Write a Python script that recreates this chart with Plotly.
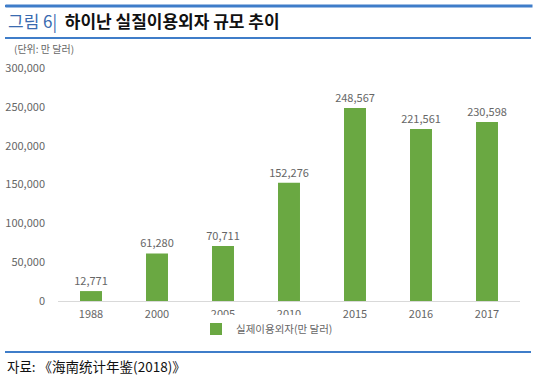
import plotly.graph_objects as go

years = ["1988", "2000", "2005", "2010", "2015", "2016", "2017"]
values = [12771, 61280, 70711, 152276, 248567, 221561, 230598]
value_labels = ["12,771", "61,280", "70,711", "152,276", "248,567", "221,561", "230,598"]
y_ticks = [0, 50000, 100000, 150000, 200000, 250000, 300000]
y_tick_labels = ["0", "50,000", "100,000", "150,000", "200,000", "250,000", "300,000"]
series_name = "실제이용외자(만 달러)"

W, H = 540, 382
L, R, T, B = 58, 20, 68, 81
ph = H - T - B
pw = W - L - R

def py(ypx):
    return (H - B - ypx) / ph

def px(xpx):
    return (xpx - L) / pw

FONT = "Noto Sans CJK KR"
GREEN = "#6AA842"
BLUE = "#3F7DC9"
GRAY = "#666666"

fig = go.Figure()
fig.add_trace(go.Bar(
    x=years, y=values, name=series_name,
    marker=dict(color=GREEN, line=dict(width=0)),
    text=value_labels, textposition="outside", constraintext="none",
    textfont=dict(size=11, color=GRAY, family=FONT),
    cliponaxis=False,
))

fig.update_layout(
    width=W, height=H,
    margin=dict(l=L, r=R, t=T, b=B, autoexpand=False),
    paper_bgcolor="white", plot_bgcolor="white",
    font=dict(family=FONT, color=GRAY, size=11),
    bargap=0.667,
    showlegend=True,
    legend=dict(orientation="h", x=px(196), xanchor="left", y=py(329), yanchor="middle",
                font=dict(size=10.5, color=GRAY, family=FONT), itemwidth=30),
    xaxis=dict(showgrid=False, showline=True, linecolor="#D9D9D9", linewidth=1,
               ticks="", tickfont=dict(size=11, color=GRAY), ticklabelstandoff=3),
    yaxis=dict(range=[0, 300000], tickvals=y_ticks, ticktext=y_tick_labels,
               showgrid=False, showline=False, zeroline=False, ticks="",
               tickfont=dict(size=11, color=GRAY), ticklabelstandoff=12),
)

for ypx in (6, 38, 352):
    fig.add_shape(type="line", xref="paper", yref="paper",
                  x0=px(5), x1=px(531), y0=py(ypx), y1=py(ypx),
                  line=dict(color=BLUE, width=2), layer="above")

# top rule drawn also as a thin filled annotation box
fig.add_annotation(xref="paper", yref="paper", x=px(5), y=py(5.5), xanchor="left", yanchor="middle",
                   text=" ", showarrow=False, width=526, height=2, borderpad=0,
                   bgcolor=BLUE, font=dict(size=1))

fig.add_annotation(xref="paper", yref="paper", x=px(6), y=py(21), xanchor="left", yanchor="middle",
                   text="<span style='color:#3A6BB0'>그림 6|</span>  <b>하이난 실질이용외자 규모 추이</b>",
                   showarrow=False, font=dict(size=17, color="#111111", family=FONT))
fig.add_annotation(xref="paper", yref="paper", x=px(12), y=py(49), xanchor="left", yanchor="middle",
                   text="(단위: 만 달러)", showarrow=False, font=dict(size=10, color=GRAY, family=FONT))
fig.add_annotation(xref="paper", yref="paper", x=px(5), y=py(366), xanchor="left", yanchor="middle",
                   text="자료: 《海南统计年鉴(2018)》", showarrow=False,
                   font=dict(size=13.5, color="#111111", family=FONT))

fig.write_html("out.html", config={"displayModeBar": False},
               post_script="document.body.style.margin='0';document.body.style.padding='0';")
